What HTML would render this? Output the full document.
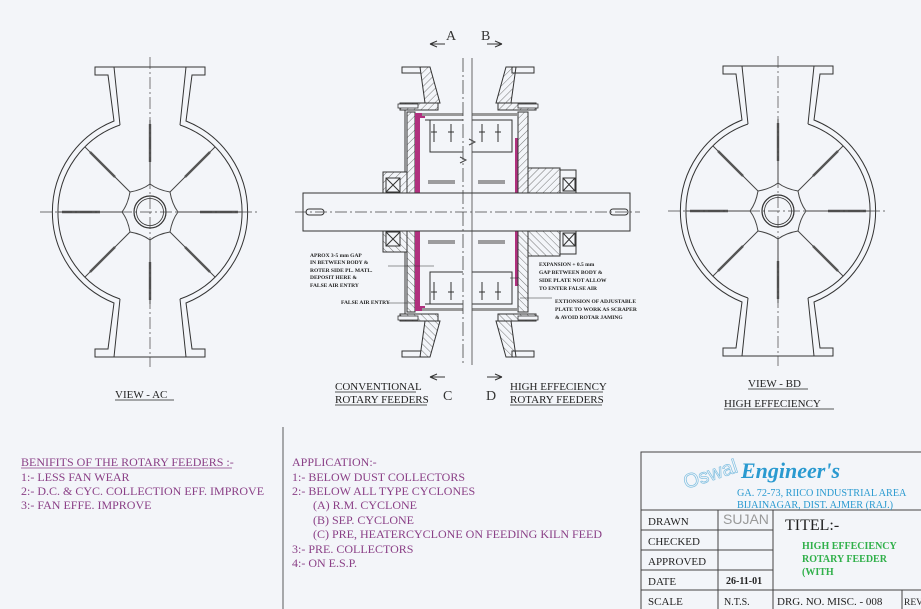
<!DOCTYPE html>
<html><head><meta charset="utf-8"><style>
html,body{margin:0;padding:0;background:#f3f5f9;}
svg{display:block;}
.t{font-family:"Liberation Serif",serif;}
</style></head><body>
<svg width="921" height="609" viewBox="0 0 921 609" xmlns="http://www.w3.org/2000/svg">
<defs>
<pattern id="h" width="5" height="5" patternUnits="userSpaceOnUse" patternTransform="rotate(45)">
<rect width="5" height="5" fill="#f3f5f9"/><line x1="0" y1="0" x2="0" y2="5" stroke="#555" stroke-width="0.8"/></pattern>
<g id="view">
 <path d="M-55,-145 H55 V-137 H42 L36,-91 A98,98 0 0 1 36,91 L42,137 H55 V145 H-55 V137 H-42 L-36,91 A98,98 0 0 1 -36,-91 L-42,-137 H-55 Z" fill="none" stroke="#333" stroke-width="1"/>
 <path d="M-36,-145 L-30,-87 M36,-145 L30,-87 M-36,145 L-30,87 M36,145 L30,87" stroke="#333" fill="none"/>
 <path d="M-30,-87 A92,92 0 0 0 -30,87 M30,-87 A92,92 0 0 1 30,87" fill="none" stroke="#333"/>
 <circle r="16" fill="none" stroke="#333" stroke-width="1.2"/><circle r="13.5" fill="none" stroke="#333" stroke-width="0.8"/>
 <g stroke="#444" stroke-width="1">
  <line x1="0" y1="-28" x2="0" y2="-92"/><line x1="0" y1="28" x2="0" y2="92"/>
  <line x1="28" y1="0" x2="92" y2="0"/><line x1="-28" y1="0" x2="-92" y2="0"/>
  <line x1="20" y1="-20" x2="65" y2="-65"/><line x1="-20" y1="-20" x2="-65" y2="-65"/>
  <line x1="20" y1="20" x2="65" y2="65"/><line x1="-20" y1="20" x2="-65" y2="65"/>
 </g>
 <g stroke="#555" stroke-width="2.4">
  <line x1="0" y1="-50" x2="0" y2="-88"/><line x1="0" y1="50" x2="0" y2="88"/>
  <line x1="50" y1="0" x2="88" y2="0"/><line x1="-50" y1="0" x2="-88" y2="0"/>
  <line x1="35" y1="-35" x2="60" y2="-60"/><line x1="-35" y1="-35" x2="-60" y2="-60"/>
  <line x1="35" y1="35" x2="60" y2="60"/><line x1="-35" y1="35" x2="-60" y2="60"/>
 </g>
 <path d="M0,-28 Q8,-22 20,-20 M20,-20 Q22,-8 28,0 M28,0 Q22,8 20,20 M20,20 Q8,22 0,28 M0,28 Q-8,22 -20,20 M-20,20 Q-22,8 -28,0 M-28,0 Q-22,-8 -20,-20 M-20,-20 Q-8,-22 0,-28" fill="none" stroke="#444"/>
 <line x1="0" y1="-155" x2="0" y2="155" stroke="#444" stroke-width="0.7" stroke-dasharray="12,3,2,3"/>
 <line x1="-110" y1="0" x2="110" y2="0" stroke="#444" stroke-width="0.7" stroke-dasharray="12,3,2,3"/>
</g>
<g id="half">
 <rect x="402" y="67" width="22" height="6" fill="none" stroke="#333"/>
 <polygon points="420,67 430,67 440,103 425,103" fill="url(#h)" stroke="#333"/>
 <rect x="400" y="103" width="38" height="7" fill="url(#h)" stroke="#333"/>
 <rect x="398" y="104" width="20" height="4" fill="#f3f5f9" stroke="#333" stroke-width="0.8"/>
 <path d="M405,110 V172 H383 V193" fill="none" stroke="#333"/>
 <rect x="407" y="112" width="8" height="81" fill="url(#h)" stroke="#333"/>
 <rect x="383" y="172" width="24" height="21" fill="url(#h)" stroke="#333"/>
 <rect x="386" y="178" width="14" height="14" fill="#f3f5f9" stroke="#333"/>
 <path d="M386,178 L400,192 M400,178 L386,192" stroke="#333"/>
 <rect x="415" y="113" width="5" height="80" fill="#b0307e"/>
 <rect x="415" y="113" width="10" height="5" fill="#b0307e"/>
 <rect x="422" y="113" width="41" height="3" fill="#999"/>
 <rect x="472" y="113" width="45" height="3" fill="#999"/>
 <path d="M425,120 H463 M430,120 V152 H463 M472,120 H512 V152 H472" fill="none" stroke="#333"/>
 <path d="M428,181 H455 M428,183 H455 M478,181 H505 M478,183 H505" stroke="#444"/>
 <g stroke="#333" fill="none">
  <path d="M434,124 V142 M431,132 H437 M451,124 V142 M448,132 H454 M482,124 V142 M479,132 H485 M498,124 V142 M495,132 H501"/>
 </g>
 <rect x="515" y="138" width="3" height="55" fill="#b0307e"/>
 <rect x="518" y="112" width="10" height="81" fill="url(#h)" stroke="#333"/>
 <rect x="528" y="168" width="32" height="25" fill="url(#h)" stroke="#333"/>
 <rect x="560" y="170" width="16" height="23" fill="none" stroke="#333"/>
 <rect x="563" y="178" width="12" height="13" fill="#f3f5f9" stroke="#333"/>
 <path d="M563,178 L575,191 M575,178 L563,191" stroke="#333"/>
 <polygon points="516,67 506,67 496,103 511,103" fill="url(#h)" stroke="#333"/>
 <rect x="512" y="67" width="22" height="6" fill="none" stroke="#333"/>
 <rect x="498" y="103" width="38" height="7" fill="url(#h)" stroke="#333"/>
 <rect x="518" y="104" width="20" height="4" fill="#f3f5f9" stroke="#333" stroke-width="0.8"/>
</g>
</defs>

<use href="#view" x="150" y="212"/>
<use href="#view" x="778" y="211"/>

<use href="#half"/>
<use href="#half" transform="translate(0,424) scale(1,-1)"/>
<rect x="303" y="193" width="327" height="38" fill="#f3f5f9" stroke="#333"/>
<rect x="306" y="209" width="18" height="6" rx="3" fill="none" stroke="#333"/>
<rect x="610" y="209" width="18" height="6" rx="3" fill="none" stroke="#333"/>
<line x1="295" y1="212" x2="640" y2="212" stroke="#444" stroke-width="0.7" stroke-dasharray="12,3,2,3"/>
<line x1="463" y1="58" x2="463" y2="365" stroke="#444" stroke-width="0.8" stroke-dasharray="14,3,2,3"/>
<line x1="472" y1="58" x2="472" y2="365" stroke="#444" stroke-width="0.8"/>
<path d="M460,163 L466,160 L460,157 M469,145 L475,142 L469,139" stroke="#444" fill="none"/>

<g stroke="#333" fill="none">
 <path d="M445,44 H430 M430,44 L437,41 M430,44 L437,47"/>
 <path d="M487,44 H502 M502,44 L495,41 M502,44 L495,47"/>
 <path d="M445,377 H430 M430,377 L437,374 M430,377 L437,380"/>
 <path d="M487,377 H502 M502,377 L495,374 M502,377 L495,380"/>
</g>
<g class="t" fill="#333" font-family="Liberation Sans,sans-serif" font-size="14">
 <text x="446" y="40">A</text><text x="481" y="40">B</text>
 <text x="443" y="400">C</text><text x="486" y="400">D</text>
</g>
<g class="t" fill="#222" font-size="5.5" font-weight="bold">
 <text x="310" y="257">APROX 3-5 mm GAP</text>
 <text x="310" y="264">IN BETWEEN BODY &amp;</text>
 <text x="310" y="272">ROTER SIDE PL. MATL.</text>
 <text x="310" y="279">DEPOSIT HERE &amp;</text>
 <text x="310" y="287">FALSE AIR ENTRY</text>
 <text x="341" y="304">FALSE AIR ENTRY</text>
 <text x="539" y="266">EXPANSION + 0.5 mm</text>
 <text x="539" y="274">GAP BETWEEN BODY &amp;</text>
 <text x="539" y="282">SIDE PLATE NOT ALLOW</text>
 <text x="539" y="290">TO ENTER FALSE AIR</text>
 <text x="555" y="303">EXTIONSION OF ADJUSTABLE</text>
 <text x="555" y="311">PLATE TO WORK AS SCRAPER</text>
 <text x="555" y="319">&amp; AVOID ROTAR JAMING</text>
</g>
<g stroke="#333" stroke-width="0.6">
 <line x1="388" y1="266" x2="434" y2="266"/><line x1="387" y1="303" x2="415" y2="303"/>
 <line x1="510" y1="278" x2="518" y2="278"/><line x1="520" y1="298" x2="552" y2="298"/>
</g>

<g class="t" fill="#222" font-size="11">
 <text x="335" y="390">CONVENTIONAL</text><text x="335" y="403">ROTARY FEEDERS</text>
 <text x="510" y="390">HIGH EFFECIENCY</text><text x="510" y="403">ROTARY FEEDERS</text>
 <text x="115" y="398">VIEW - AC</text>
 <text x="748" y="387">VIEW - BD</text>
 <text x="724" y="407">HIGH EFFECIENCY</text>
</g>
<g stroke="#222" stroke-width="0.8">
 <line x1="335" y1="392" x2="416" y2="392"/><line x1="335" y1="405" x2="427" y2="405"/>
 <line x1="510" y1="392" x2="603" y2="392"/><line x1="510" y1="405" x2="602" y2="405"/>
 <line x1="115" y1="400" x2="174" y2="400"/>
 <line x1="748" y1="389" x2="808" y2="389"/><line x1="724" y1="409" x2="834" y2="409"/>
</g>

<line x1="283" y1="427" x2="283" y2="609" stroke="#333" stroke-width="0.8"/>
<g class="t" fill="#8a3f86" font-size="12">
 <text x="21" y="466">BENIFITS OF THE ROTARY FEEDERS  :-</text>
 <text x="21" y="481">1:- LESS FAN WEAR</text>
 <text x="21" y="495">2:- D.C. &amp; CYC. COLLECTION EFF. IMPROVE</text>
 <text x="21" y="509">3:- FAN EFFE. IMPROVE</text>
 <text x="292" y="466">APPLICATION:-</text>
 <text x="292" y="481">1:- BELOW DUST COLLECTORS</text>
 <text x="292" y="495">2:- BELOW ALL TYPE CYCLONES</text>
 <text x="313" y="509">(A)  R.M. CYCLONE</text>
 <text x="313" y="524">(B)  SEP. CYCLONE</text>
 <text x="313" y="538">(C)  PRE, HEATERCYCLONE ON FEEDING KILN FEED</text>
 <text x="292" y="553">3:- PRE. COLLECTORS</text>
 <text x="292" y="567">4:- ON E.S.P.</text>
</g>
<line x1="21" y1="468" x2="232" y2="468" stroke="#8a3f86" stroke-width="0.8"/>

<g stroke="#444" stroke-width="1" fill="none">
 <rect x="641" y="452" width="285" height="160"/>
 <line x1="641" y1="510" x2="921" y2="510"/>
 <line x1="641" y1="530" x2="773" y2="530"/>
 <line x1="641" y1="550" x2="773" y2="550"/>
 <line x1="641" y1="570" x2="773" y2="570"/>
 <line x1="641" y1="590" x2="921" y2="590"/>
 <line x1="718" y1="510" x2="718" y2="609"/>
 <line x1="773" y1="510" x2="773" y2="609"/>
 <line x1="902" y1="590" x2="902" y2="609"/>
</g>
<text x="686" y="489" transform="rotate(-18 686 489)" font-family="Liberation Sans,sans-serif" font-size="20" fill="none" stroke="#7fbfe0" stroke-width="0.7">Oswal</text>
<text x="741" y="478" class="t" font-size="22" font-style="italic" font-weight="bold" fill="#2a9ad0">Engineer's</text>
<g class="t" fill="#2a9ad0" font-size="10.2">
 <text x="737" y="496">GA. 72-73, RIICO INDUSTRIAL AREA</text>
 <text x="737" y="508">BIJAINAGAR, DIST. AJMER (RAJ.)</text>
</g>
<g class="t" fill="#222" font-size="11">
 <text x="648" y="525">DRAWN</text><text x="648" y="545">CHECKED</text>
 <text x="648" y="565">APPROVED</text><text x="648" y="585">DATE</text>
 <text x="648" y="605">SCALE</text>
 <text x="724" y="605" font-size="10">N.T.S.</text>
 <text x="726" y="584" font-size="10" font-weight="bold">26-11-01</text>
 <text x="777" y="605">DRG. NO. MISC. - 008</text>
 <text x="904" y="605" font-size="9.5">REV.</text>
 <text x="785" y="530" font-size="16">TITEL:-</text>
</g>
<text x="723" y="524" font-family="Liberation Sans,sans-serif" font-size="14" fill="#999">SUJAN</text>
<g class="t" fill="#30b04a" font-size="10" font-weight="bold">
 <text x="802" y="549">HIGH EFFECIENCY</text>
 <text x="802" y="562">ROTARY FEEDER</text>
 <text x="802" y="575">(WITH</text>
</g>
</svg>
</body></html>
